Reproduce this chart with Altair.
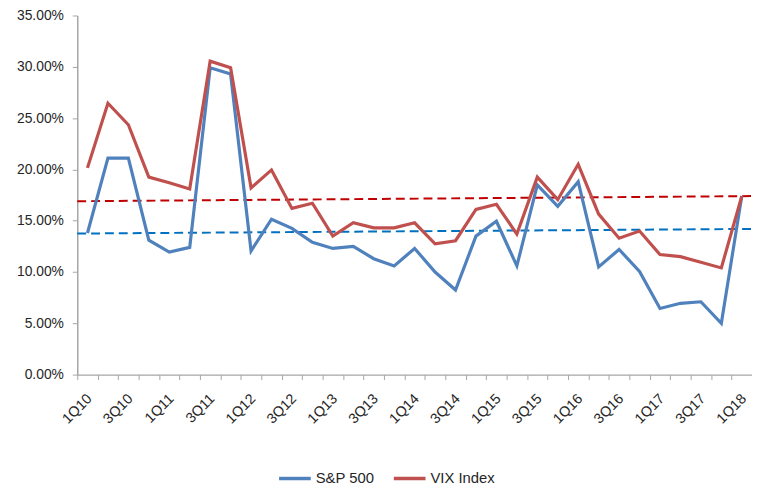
import altair as alt
import pandas as pd

quarters = ["1Q10", "2Q10", "3Q10", "4Q10", "1Q11", "2Q11", "3Q11", "4Q11",
            "1Q12", "2Q12", "3Q12", "4Q12", "1Q13", "2Q13", "3Q13", "4Q13",
            "1Q14", "2Q14", "3Q14", "4Q14", "1Q15", "2Q15", "3Q15", "4Q15",
            "1Q16", "2Q16", "3Q16", "4Q16", "1Q17", "2Q17", "3Q17", "4Q17",
            "1Q18"]
labelled_quarters = ["1Q10", "3Q10", "1Q11", "3Q11", "1Q12", "3Q12", "1Q13", "3Q13",
                     "1Q14", "3Q14", "1Q15", "3Q15", "1Q16", "3Q16", "1Q17", "3Q17", "1Q18"]

series_names = ["S&P 500", "VIX Index"]
sp500 = [13.8, 21.1, 21.1, 13.1, 11.95, 12.4, 29.9, 29.3, 12.05, 15.15, 14.25, 12.9,
         12.3, 12.5, 11.3, 10.6, 12.3, 10.0, 8.25, 13.5, 14.95, 10.6, 18.5, 16.4,
         18.8, 10.5, 12.2, 10.05, 6.45, 6.95, 7.1, 5.0, 17.4]
vix = [20.15, 26.45, 24.35, 19.25, 18.7, 18.1, 30.55, 29.9, 18.2, 19.95, 16.2, 16.7,
       13.5, 14.8, 14.3, 14.3, 14.8, 12.75, 13.05, 16.1, 16.6, 13.7, 19.25, 17.05,
       20.5, 15.65, 13.3, 14.0, 11.7, 11.5, 10.95, 10.4, 17.4]

trend_names = ["S&P 500 trend", "VIX Index trend"]
trend_pos = [-0.5, 32.5]
sp500_trend = [13.75, 14.2]
vix_trend = [16.9, 17.4]

y_ticks = [0, 0.05, 0.10, 0.15, 0.20, 0.25, 0.30, 0.35]

rows = []
for name, vals in zip(series_names, [sp500, vix]):
    for q, v in zip(quarters, vals):
        rows.append({"quarter": q, "series": name, "value": v / 100.0})
df = pd.DataFrame(rows)

trows = []
for name, vals in zip(trend_names, [sp500_trend, vix_trend]):
    for p, v in zip(trend_pos, vals):
        trows.append({"pos": p, "series": name, "value": v / 100.0})
tdf = pd.DataFrame(trows)

FONT = "Liberation Sans"
TXT = "#262626"
AX = "#a6a6a6"

label_list = "[" + ",".join("'" + q + "'" for q in labelled_quarters) + "]"

y_scale = alt.Scale(domain=[0, 0.35], nice=False, zero=True)
y_axis = alt.Axis(title=None, values=y_ticks, format=".2%", grid=False, tickSize=5,
                  tickColor=AX, domainColor=AX, domainWidth=1.5, labelPadding=9,
                  labelFont=FONT, labelFontSize=14, labelColor=TXT)

lines = alt.Chart(df).mark_line(strokeWidth=3.2).encode(
    x=alt.X("quarter:N", sort=quarters,
            scale=alt.Scale(type="band", paddingInner=0, paddingOuter=0),
            axis=alt.Axis(title=None, labelAngle=315, labelAlign="right",
                          labelBaseline="middle", labelPadding=17, labelOffset=2,
                          tickBand="extent", tickSize=5, tickColor=AX,
                          domainColor=AX, domainWidth=1.5, grid=False,
                          labelFont=FONT, labelFontSize=14.5, labelColor=TXT,
                          labelExpr="indexof(" + label_list + ", datum.value) >= 0 ? datum.value : ''")),
    y=alt.Y("value:Q", scale=y_scale, axis=y_axis),
    color=alt.Color("series:N", sort=series_names,
                    scale=alt.Scale(domain=series_names, range=["#4F81BD", "#C0504D"]),
                    legend=alt.Legend(title=None, orient="none", legendX=202, legendY=450,
                                      direction="horizontal", symbolType="stroke",
                                      symbolSize=1024, symbolStrokeWidth=3.5,
                                      labelFont=FONT, labelFontSize=15, labelColor=TXT,
                                      columnPadding=12, labelOffset=3)),
)

trend = alt.Chart(tdf).mark_line(strokeWidth=2, strokeDash=[9, 5]).encode(
    x=alt.X("pos:Q", scale=alt.Scale(domain=[-0.5, 32.5], nice=False, zero=False), axis=None),
    y=alt.Y("value:Q", scale=y_scale, axis=y_axis),
    color=alt.Color("series:N",
                    scale=alt.Scale(domain=trend_names, range=["#0070C0", "#C00000"]),
                    legend=None),
)

chart = alt.layer(trend, lines).resolve_scale(x="independent", color="independent").properties(
    width=682, height=363,
    autosize=alt.AutoSizeParams(type="none"),
    padding={"left": 70, "top": 5, "right": 0, "bottom": 112},
).configure_view(stroke=None)

chart.save("out.html", embed_options={"renderer": "svg", "actions": False})
